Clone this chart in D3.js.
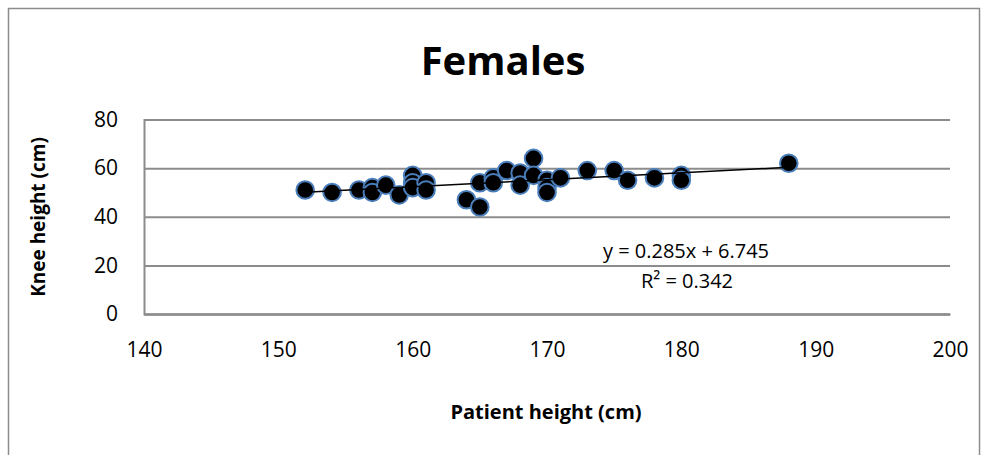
<!DOCTYPE html>
<html>
<head>
<meta charset="utf-8">
<script src="https://cdn.jsdelivr.net/npm/d3@7"></script>
<style>
    body { margin: 0; background: #fff; }
    svg { display: block; }
</style>
</head>
<body>
<svg id="chart"></svg>
<script>
// patient height (cm) / knee height (cm)
const patientHeight = [152, 154, 156, 157, 157, 158, 159, 160, 160, 160, 161, 161,
    164, 165, 165, 166, 166, 167, 168, 168, 169, 169, 170, 170, 170, 171,
    173, 175, 176, 178, 180, 180, 188];
const kneeHeight = [51, 50, 51, 52, 50, 53, 49, 57, 54, 52, 54, 51,
    47, 44, 54, 56, 54, 59, 58, 53, 64, 57, 55, 52, 50, 56,
    59, 59, 55, 56, 57, 55, 62];

const xTicks = [140, 150, 160, 170, 180, 190, 200];
const yTicks = [0, 20, 40, 60, 80];

// trendline given in the chart
const slope = 0.285;
const intercept = 6.745;
const rSquared = 0.342;

const config = {
    width: 989, height: 455,
    plot: { left: 144, right: 950, top: 119.5, bottom: 314 },
    font: "'Open Sans', 'Noto Sans', sans-serif",
    grid: "#8c8c8c"
};

const svg = d3.select("#chart")
    .attr("width", config.width)
    .attr("height", config.height);

// outer frame
svg.append("rect")
    .attr("x", 8.5).attr("y", 8.5)
    .attr("width", 971).attr("height", 460)
    .attr("fill", "#fff")
    .attr("stroke", "#8c8c8c")
    .attr("stroke-width", 1.5);

const x = d3.scaleLinear()
    .domain([xTicks[0], xTicks[xTicks.length - 1]])
    .range([config.plot.left, config.plot.right]);

const y = d3.scaleLinear()
    .domain([yTicks[0], yTicks[yTicks.length - 1]])
    .range([config.plot.bottom, config.plot.top]);

// Y axis with gridlines
svg.append("g")
    .attr("transform", `translate(${config.plot.left}, 0)`)
    .call(d3.axisLeft(y).tickValues(yTicks).tickSize(-(config.plot.right - config.plot.left)).tickPadding(26))
    .call(g => g.select(".domain").attr("stroke", config.grid).attr("stroke-width", 2))
    .call(g => g.selectAll("line").attr("stroke", config.grid).attr("stroke-width", 2))
    .call(g => g.selectAll("text")
        .attr("font-family", config.font).attr("font-size", "21px").attr("fill", "#000"));

// X axis (labels only, line at y=0)
svg.append("g")
    .attr("transform", `translate(0, ${config.plot.bottom})`)
    .call(d3.axisBottom(x).tickValues(xTicks).tickSize(0).tickPadding(28))
    .call(g => g.select(".domain").attr("stroke", config.grid).attr("stroke-width", 2))
    .call(g => g.selectAll("text")
        .attr("font-family", config.font).attr("font-size", "21px").attr("fill", "#000"));

// markers
const points = patientHeight.map((h, i) => ({ h: h, k: kneeHeight[i] }));

svg.append("g")
    .selectAll("circle")
    .data(points)
    .join("circle")
    .attr("cx", d => x(d.h))
    .attr("cy", d => y(d.k))
    .attr("r", 8.8)
    .attr("fill", "#000")
    .attr("stroke", "#4a7ebb")
    .attr("stroke-width", 2);

// linear trendline over the data range
const xExt = d3.extent(patientHeight);
svg.append("path")
    .datum(xExt)
    .attr("fill", "none")
    .attr("stroke", "#000")
    .attr("stroke-width", 1.5)
    .attr("d", d3.line().x(d => x(d)).y(d => y(slope * d + intercept)));

// equation label
svg.append("text")
    .attr("x", 686).attr("y", 258)
    .attr("text-anchor", "middle")
    .attr("font-family", config.font).attr("font-size", "20px")
    .text(`y = ${slope}x + ${intercept}`);

svg.append("text")
    .attr("x", 687).attr("y", 288)
    .attr("text-anchor", "middle")
    .attr("font-family", config.font).attr("font-size", "20px")
    .text(`R² = ${rSquared}`);

// title
svg.append("text")
    .attr("x", 503).attr("y", 75)
    .attr("text-anchor", "middle")
    .attr("font-family", config.font).attr("font-size", "40px").attr("font-weight", "bold")
    .text("Females");

// axis titles
svg.append("text")
    .attr("x", 546).attr("y", 419)
    .attr("text-anchor", "middle")
    .attr("font-family", config.font).attr("font-size", "20px").attr("font-weight", "bold")
    .text("Patient height (cm)");

svg.append("text")
    .attr("transform", "translate(45, 217) rotate(-90)")
    .attr("text-anchor", "middle")
    .attr("font-family", config.font).attr("font-size", "19px").attr("font-weight", "bold")
    .text("Knee height (cm)");
</script>
</body>
</html>
